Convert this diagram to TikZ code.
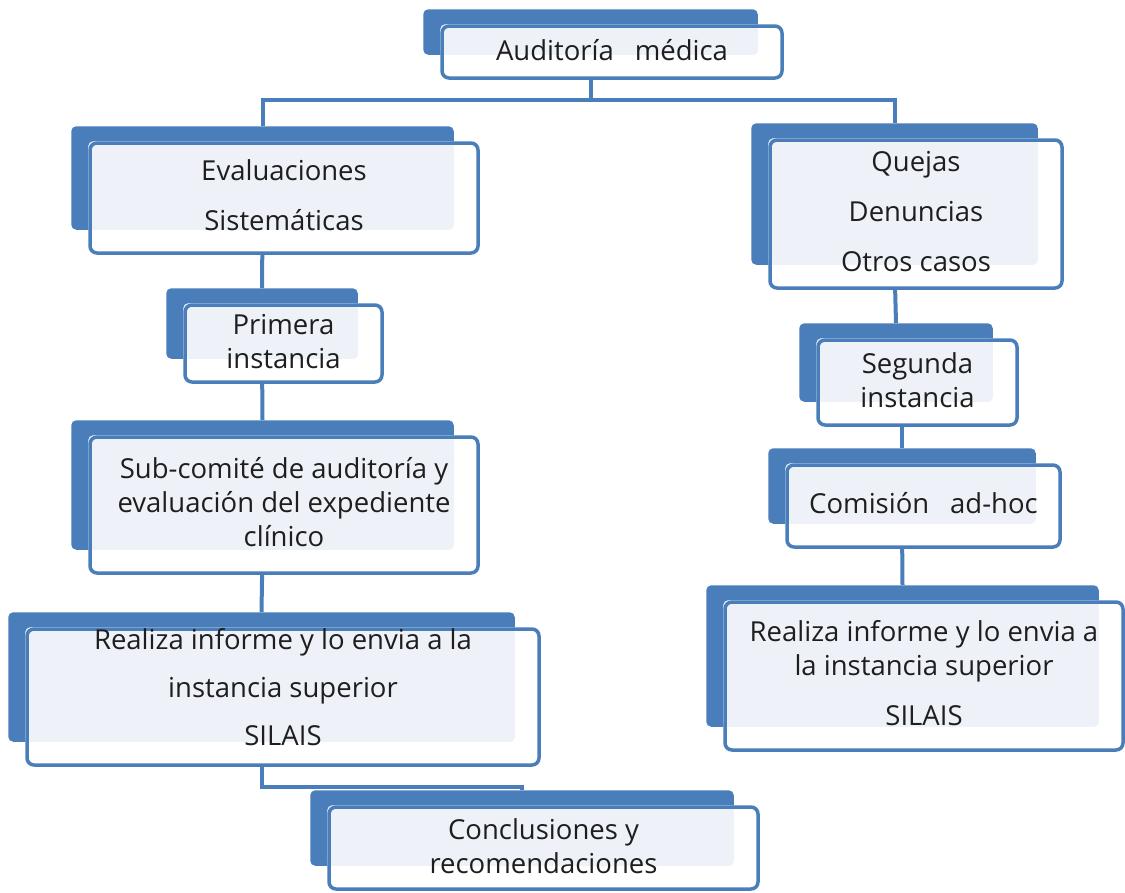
\documentclass[tikz,border=0pt]{standalone}
\usepackage{fontspec}
\setmainfont{Open Sans}
\usepackage{tikz}
\usetikzlibrary{fit}
\definecolor{azul}{HTML}{4A7EBB}
\definecolor{claro}{HTML}{EEF2F8}
\definecolor{texto}{HTML}{1E1E1E}
\pgfdeclarelayer{fondo}
\pgfdeclarelayer{relleno}
\pgfsetlayers{fondo,relleno,main}

% caja doble: [ajuste del texto], nombre, esquina NO, esquina SE, texto
\newcommand{\caja}[5][2pt]{%
  \node[frente, fit={#3 #4}] (#2) {};
  \node[rotulo, yshift=#1] (#2-txt) at (#2.center) {#5};
  \path ([shift={(-17,-15)}]#2.north west) coordinate (#2-a)
        ([shift={(-26,-25)}]#2.south east) coordinate (#2-b);
  \begin{pgfonlayer}{fondo}
    \node[tras, fit=(#2-a)(#2-b)] (#2-tras) {};
  \end{pgfonlayer}
  \begin{pgfonlayer}{relleno}
    \fill[white, rounded corners=7pt] (#2.north west) rectangle (#2.south east);
    \fill[claro, rounded corners=5pt] (#2.north west) rectangle (#2-tras.south east);
  \end{pgfonlayer}
}

\begin{document}
\begin{tikzpicture}[
  x=1pt, y=-1pt,
  frente/.style={draw=azul, line width=3.5pt, rounded corners=7pt, inner sep=0pt},
  rotulo/.style={inner sep=0pt, align=center, text=texto, font=\fontsize{27.5}{34}\selectfont},
  tras/.style={fill=azul, rounded corners=5pt, inner sep=0pt},
  linea/.style={draw=azul, line width=4pt}]
  \useasboundingbox (0,0) rectangle (1125,892);

  \caja{aud}{(442,26)}{(782,78)}{Auditoría\hspace{0.5em} médica}
  \caja[3pt]{eva}{(90,143)}{(478,253)}{Evaluaciones\\[16pt]Sistemáticas}
  \caja{que}{(770,140)}{(1062,288)}{Quejas\\[16pt]Denuncias\\[16pt]Otros casos}
  \caja{pri}{(185,305)}{(382,382)}{Primera\\instancia}
  \caja{seg}{(818,340)}{(1017,425)}{Segunda\\instancia}
  \caja[3pt]{sub}{(90,437)}{(478,573)}{Sub-comité de auditoría y\\evaluación del expediente\\clínico}
  \caja[3pt]{com}{(787,465)}{(1060,547)}{Comisión\hspace{0.5em} ad-hoc}
  \caja[10pt]{inf}{(27,629)}{(539,765)}{Realiza informe y lo envia a la\\[14pt]instancia superior\\[14pt]SILAIS}
  \caja[3pt]{sup}{(725,602)}{(1123,750)}{Realiza informe y lo envia a\\la instancia superior\\[16pt]SILAIS}
  \caja{con}{(329,807)}{(758,889)}{Conclusiones y\\recomendaciones}

  \coordinate (rama) at (aud-tras.south |- 0,100);
  \begin{pgfonlayer}{fondo}
    \draw[linea] (aud-tras.south) -- (rama) -| (eva-tras.north);
    \draw[linea] (rama) -| (que-tras.north);
    \draw[linea] (eva-tras.south) -- (pri-tras.north);
    \draw[linea] (pri-tras.south) -- (sub-tras.north);
    \draw[linea] (sub-tras.south) -- (inf-tras.north);
    \draw[linea] (inf-tras.south) -- ++(0,45) -| (con-tras.north);
    \draw[linea] (que-tras.south) -- (seg-tras.north);
    \draw[linea] (com-tras.north |- seg.south) -- (com-tras.north);
    \draw[linea] (com-tras.south) -- (sup-tras.north);
  \end{pgfonlayer}
\end{tikzpicture}
\end{document}
